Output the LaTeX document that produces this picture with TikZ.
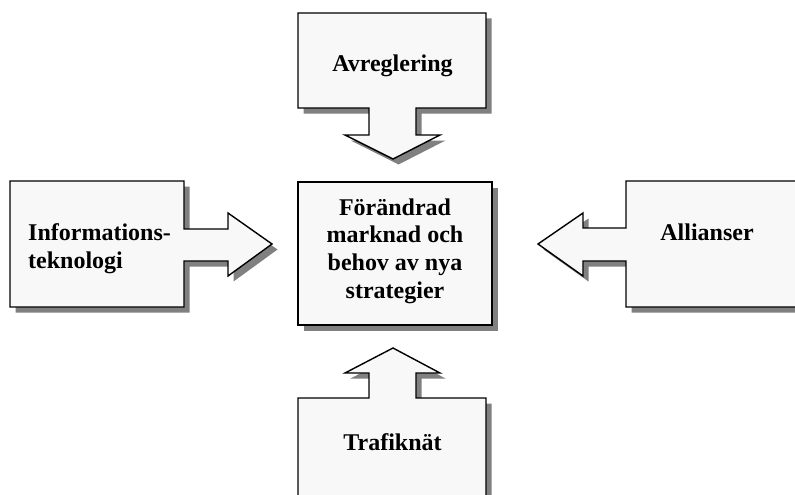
\documentclass[tikz,border=0pt]{standalone}
\usepackage{fontspec}
\setmainfont{Liberation Serif}
\usetikzlibrary{shadows}
\definecolor{panelfill}{RGB}{248,248,248}
\definecolor{shadowgray}{RGB}{128,128,128}
\tikzset{
  panel/.style={fill=panelfill, draw=black, line width=1.4pt, line join=miter,
    drop shadow={shadow xshift=5.5pt, shadow yshift=-5.5pt, fill=shadowgray, opacity=1}},
  caption/.style={font=\fontsize{24}{27.7}\selectfont\bfseries, inner sep=0pt}
}
\begin{document}
\begin{tikzpicture}[x=1pt, y=-1pt]
  \useasboundingbox (0,0) rectangle (795,495);
  \clip (0,0) rectangle (795,495);

  % top callout pointing down
  \draw[panel] (298,13) -- (486,13) -- (486,108) -- (416,108) -- (416,135)
    -- (440,135) -- (393,159) -- (345,135) -- (369,135) -- (369,108)
    -- (298,108) -- cycle;
  % left callout pointing right
  \draw[panel] (10,181) -- (184,181) -- (184,229) -- (228,229) -- (228,213)
    -- (272,244) -- (228,276) -- (228,261) -- (184,261) -- (184,307)
    -- (10,307) -- cycle;
  % right callout pointing left
  \draw[panel] (626,181) -- (830,181) -- (830,307) -- (626,307) -- (626,261)
    -- (583,261) -- (583,276) -- (538,244) -- (583,213) -- (583,228)
    -- (626,228) -- cycle;
  % bottom callout pointing up
  \draw[panel] (298,530) -- (298,398) -- (369,398) -- (369,373) -- (345,373)
    -- (393,348) -- (440,373) -- (416,373) -- (416,398) -- (486,398)
    -- (486,530) -- cycle;
  % central box
  \draw[panel] (298,182) rectangle (492,325);

  \node[caption, anchor=base] (avr) at (392.5,72) {Avreglering};
  \node[caption, anchor=base] (all) at (707,240) {Allianser};
  \node[caption, anchor=base] (tra) at (392.5,450) {Trafiknät};
  \node[caption, align=left, anchor=west] (inf) at (28,249) {Informations-\\teknologi};
  \node[caption, align=center, anchor=center] (mid) at (395,251) {Förändrad\\marknad och\\behov av nya\\strategier};
\end{tikzpicture}
\end{document}
